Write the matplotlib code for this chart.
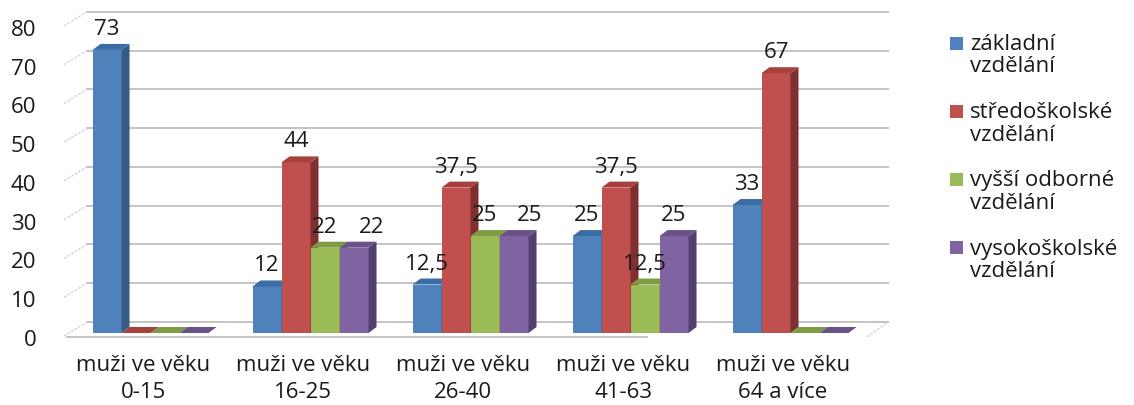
import numpy as np
import matplotlib.pyplot as plt
from matplotlib.patches import Polygon, Rectangle
from matplotlib.transforms import ScaledTranslation

# data
categories = ['muži ve věku\n0-15', 'muži ve věku\n16-25', 'muži ve věku\n26-40',
              'muži ve věku\n41-63', 'muži ve věku\n64 a více']
series_names = ['základní vzdělání', 'středoškolské vzdělání',
                'vyšší odborné vzdělání', 'vysokoškolské vzdělání']
zakladni = [73, 12, 12.5, 25, 33]
stredoskolske = [0, 44, 37.5, 37.5, 67]
vyssi_odborne = [0, 22, 25, 12.5, 0]
vysokoskolske = [0, 22, 25, 25, 0]
y_ticks = [0, 10, 20, 30, 40, 50, 60, 70, 80]

series = [zakladni, stredoskolske, vyssi_odborne, vysokoskolske]
front_colors = ['#4f81bd', '#c0504d', '#9bbb59', '#8064a2']
top_colors = ['#3d6ba4', '#a8413e', '#7f9c45', '#6a5189']
side_colors = ['#365a86', '#7d302e', '#6d873b', '#533f6e']

# label nudges in px (Excel moved two overlapping labels)
label_nudge = {(3, 1): 18, (3, 2): 16}

plt.rcParams['font.family'] = ['Open Sans', 'DejaVu Sans']
FS = 16
TXT = '#1a1a1a'

W, H = 1134, 405
fig = plt.figure(figsize=(W / 100, H / 100), dpi=100)
ax = fig.add_axes([67 / W, (H - 333) / H, 800 / W, 310.2 / H])
xmin, xmax = -0.522, 4.478
ax.set_xlim(xmin, xmax)
ax.set_ylim(0, 80)
ux = 800 / (xmax - xmin)   # px per x unit
uy = 310.2 / 80            # px per y unit

for s in ax.spines.values():
    s.set_visible(False)

# walls / grid
gx, gy = 21 / ux, 11 / uy
grid_c = '#c4c4c4'
for v in y_ticks:
    ax.plot([xmin + 20 / ux, xmax + gx], [v + gy, v + gy], color=grid_c, lw=1.4,
            clip_on=False, zorder=1)
    ax.plot([xmin - 3 / ux, xmin + 20 / ux], [v - 3 / uy, v + gy], color='#d6d6d6',
            lw=1, ls=(0, (2, 1)), clip_on=False, zorder=1)
ax.plot([xmin, 3.1], [-4 / uy, -4 / uy], color=grid_c, lw=1.4, clip_on=False, zorder=1)
ax.plot([xmax, xmax + gx], [-4 / uy, gy], color='#d6d6d6', lw=1, ls=(0, (2, 1)),
        clip_on=False, zorder=1)

# bars with fake depth
x = np.arange(len(categories))
bw = 29 / ux
ddx, ddy = 8 / ux, 6 / uy
for j, vals in enumerate(series):
    xc = x + (j - 1.5) * bw
    ax.bar(xc, vals, width=bw, color=front_colors[j], lw=0, zorder=3 + j)
    for i, v in enumerate(vals):
        x0, x1 = xc[i] - bw / 2, xc[i] + bw / 2
        top = Polygon([(x0, v), (x0 + ddx, v + ddy), (x1 + ddx, v + ddy), (x1, v)],
                      closed=True, fc=top_colors[j], ec='none', zorder=3 + j, clip_on=False)
        side = Polygon([(x1, 0), (x1 + ddx, ddy), (x1 + ddx, v + ddy), (x1, v)],
                       closed=True, fc=side_colors[j], ec='none', zorder=3 + j, clip_on=False)
        ax.add_patch(side)
        ax.add_patch(top)
        if v != 0:
            lbl = f'{v:g}'.replace('.', ',')
            nud = label_nudge.get((j, i), 0)
            ax.annotate(lbl, (xc[i], v), xytext=(nud * 0.72, 15 * 0.72),
                        textcoords='offset points', ha='center', va='baseline',
                        fontsize=FS, color=TXT, zorder=10)

# axes labels
ax.set_xticks(x - 7.5 / ux, categories)
ax.set_yticks(y_ticks)
ax.tick_params(axis='x', length=0, pad=16, labelsize=FS, labelcolor=TXT)
ax.tick_params(axis='y', length=0, pad=22, labelsize=FS, labelcolor=TXT)
for t in ax.get_xticklabels():
    t.set_linespacing(1.35)
for t in ax.get_yticklabels():
    t.set_transform(t.get_transform() + ScaledTranslation(0, -5 / 100, fig.dpi_scale_trans))

# legend drawn by hand so the swatch sits on the first line
for j, name in enumerate(series_names):
    yc = 43 + 68.3 * j
    fig.patches.append(Rectangle((950 / W, 1 - (yc + 6.5) / H), 13 / W, 13 / H,
                                 transform=fig.transFigure, fc=front_colors[j], ec='none'))
    fig.text(970 / W, 1 - (yc + 12.5) / H, '\n'.join(name.rsplit(' ', 1)),
             ha='left', va='center', fontsize=FS, color=TXT, linespacing=1.1)

fig.savefig('out.png', dpi=100)
